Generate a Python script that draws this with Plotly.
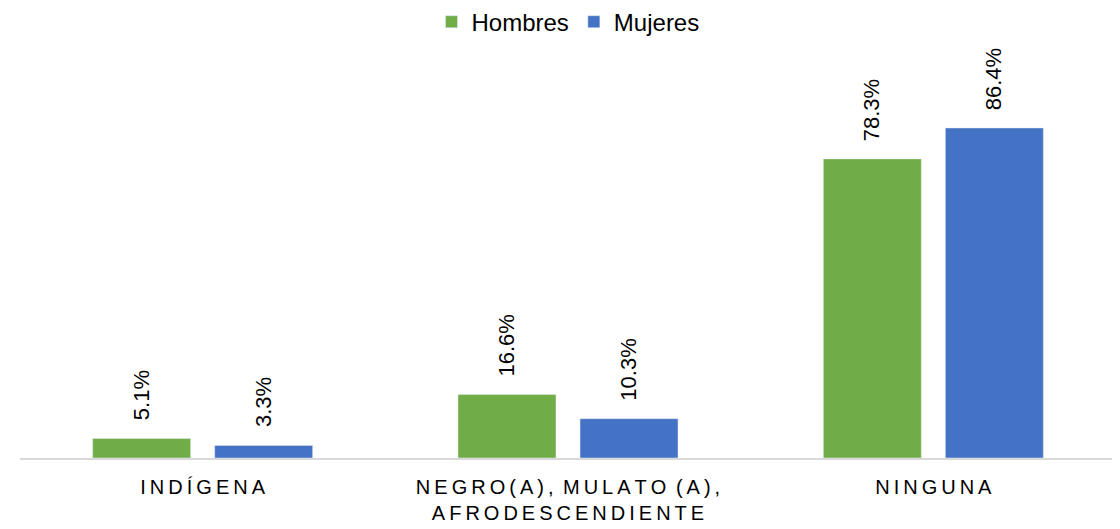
import plotly.graph_objects as go

TS = "\u2009"  # thin space used for letter spacing


def spaced(s):
    words = s.split(" ")
    return (" " + TS).join(TS.join(list(w)) for w in words)


categories_raw = ["INDÍGENA", "NEGRO(A), MULATO (A),|AFRODESCENDIENTE", "NINGUNA"]
categories = ["<br>".join(spaced(part) for part in c.split("|")) for c in categories_raw]
hombres = [5.1, 16.6, 78.3]
mujeres = [3.3, 10.3, 86.4]

FONT = "Liberation Sans Narrow, Arial Narrow, Liberation Sans, Arial, sans-serif"
GREEN = "#70ad47"
BLUE = "#4472c4"

fig = go.Figure()
fig.add_trace(go.Bar(name="Hombres", x=categories, y=hombres, marker_color=GREEN))
fig.add_trace(go.Bar(name="Mujeres", x=categories, y=mujeres, marker_color=BLUE))

annotations = []
for vals, shift in ((hombres, -61), (mujeres, 61)):
    for c, v in zip(categories, vals):
        annotations.append(dict(
            x=c, y=v, xref="x", yref="y", text=f"{v:.1f}%", showarrow=False,
            textangle=-90, xanchor="center", yanchor="bottom", xshift=shift, yshift=16,
            font=dict(family=FONT, size=22, color="#000000"),
        ))

fig.update_layout(
    width=1112, height=521,
    margin=dict(l=12, r=4, t=68, b=71, autoexpand=False),
    plot_bgcolor="white", paper_bgcolor="white",
    barmode="group", bargap=0.332, bargroupgap=0.197,
    font=dict(family=FONT, size=20, color="#000000"),
    legend=dict(orientation="h", x=0.5, xanchor="center", y=1.141, yanchor="middle",
                font=dict(family=FONT, size=24, color="#000000")),
    annotations=annotations,
    showlegend=True,
)
fig.update_xaxes(showline=True, linecolor="#d9d9d9", linewidth=2, ticks="",
                 ticklabelstandoff=10,
                 tickfont=dict(family=FONT, size=20, color="#000000"))
fig.update_yaxes(range=[0, 100], visible=False, showgrid=False)

fig.write_html("out.html")
